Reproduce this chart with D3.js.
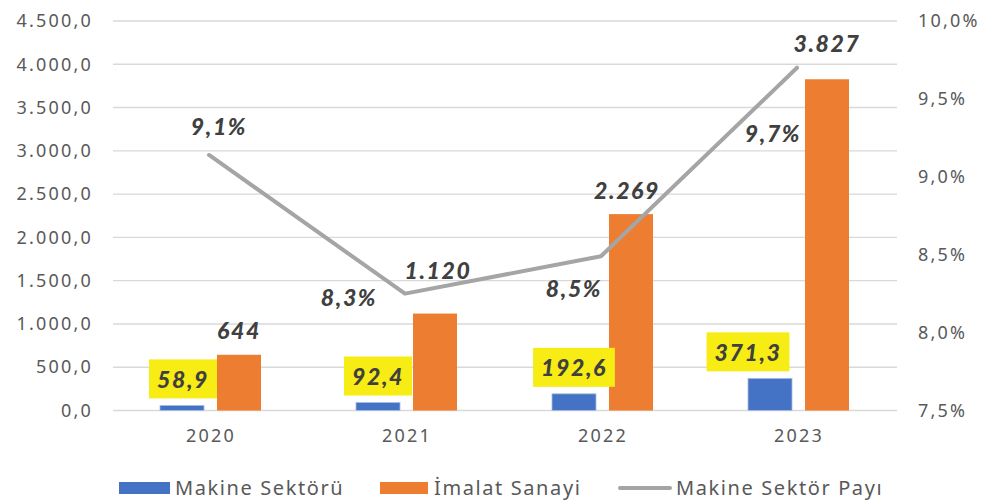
<!DOCTYPE html>
<html>
<head>
<meta charset="utf-8">
<script src="https://cdn.jsdelivr.net/npm/d3@7"></script>
<style>
  body { margin: 0; background: #fff; }
  svg { display: block; }
  .axis text { font-family: "Noto Sans", sans-serif; font-size: 18px; fill: #595959; letter-spacing: 2.2px; }
  .lbl { font-family: Lato, "Open Sans", sans-serif; font-weight: 900; font-style: italic; font-size: 23px; fill: #404040; letter-spacing: 1.6px; }
  .legend text { font-family: "Noto Sans", sans-serif; font-size: 20px; fill: #595959; letter-spacing: 1.6px; }
</style>
</head>
<body>
<div id="chart"></div>
<script>
// data
const years = ["2020", "2021", "2022", "2023"];
const makine = [58.9, 92.4, 192.6, 371.3];
const imalat = [644, 1120, 2269, 3827];
const sektorPayi = [9.14, 8.25, 8.49, 9.70];   // %
const leftTicks = [0, 500, 1000, 1500, 2000, 2500, 3000, 3500, 4000, 4500];
const rightTicks = [7.5, 8.0, 8.5, 9.0, 9.5, 10.0];
const seriesNames = ["Makine Sektörü", "İmalat Sanayi", "Makine Sektör Payı"];

// label nudges (layout only)
const orangeNudge = [[0, -24], [3, -43], [-4, -23], [0, -36]];
const lineNudge = [[10, -28], [-56, 4], [-27, 32], [-24, 66]];
const boxNudge = [1, 0, 0, -22];

const width = 982, height = 503;
const plotLeft = 113, plotRight = 897, plotTop = 21, plotBottom = 410.5;

const tr = d3.formatLocale({ decimal: ",", thousands: ".", grouping: [3], currency: ["", ""] });
const fmtAxis = tr.format(",.1f");
const fmtInt = tr.format(",d");
const fmtOne = tr.format(".1f");

const svg = d3.select("#chart").append("svg")
  .attr("width", width)
  .attr("height", height);

const x = d3.scaleBand().domain(years).range([plotLeft, plotRight]);
const xs = d3.scaleBand().domain(["m", "i"]).range([-51, 50]).paddingInner(0.228);
const y = d3.scaleLinear().domain([0, 4500]).range([plotBottom, plotTop]);
const y2 = d3.scaleLinear().domain([7.5, 10]).range([plotBottom, plotTop]);

// gridlines
svg.append("g")
  .selectAll("line")
  .data(leftTicks)
  .join("line")
    .attr("x1", plotLeft)
    .attr("x2", plotRight)
    .attr("y1", d => y(d))
    .attr("y2", d => y(d))
    .attr("stroke", "#d9d9d9")
    .attr("stroke-width", 1.4);

// left axis
const ya = svg.append("g")
  .attr("class", "axis")
  .attr("transform", `translate(${plotLeft - 20},0)`)
  .call(d3.axisLeft(y).tickValues(leftTicks).tickFormat(fmtAxis).tickSize(0));
ya.select(".domain").remove();
ya.selectAll("text").attr("x", 0);

// right axis
const y2a = svg.append("g")
  .attr("class", "axis")
  .attr("transform", `translate(${plotRight + 21},0)`)
  .call(d3.axisRight(y2).tickValues(rightTicks).tickFormat(d => fmtOne(d) + "%").tickSize(0));
y2a.select(".domain").remove();
y2a.selectAll("text").attr("x", 0);

// x axis
const xa = svg.append("g")
  .attr("class", "axis")
  .attr("transform", `translate(0,${plotBottom})`)
  .call(d3.axisBottom(x).tickSize(0));
xa.select(".domain").remove();
xa.selectAll("text").attr("y", 19).attr("dy", "0.71em");

// bars
const groups = svg.append("g")
  .selectAll("g")
  .data(years)
  .join("g")
    .attr("transform", d => `translate(${x(d) + x.bandwidth() / 2},0)`);

groups.append("rect")
  .attr("x", xs("m"))
  .attr("width", xs.bandwidth())
  .attr("y", (d, i) => y(makine[i]))
  .attr("height", (d, i) => y(0) - y(makine[i]))
  .attr("fill", "#4472c4")
  .attr("stroke", "#a9bde2")
  .attr("stroke-width", 0.8);

groups.append("rect")
  .attr("x", xs("i"))
  .attr("width", xs.bandwidth())
  .attr("y", (d, i) => y(imalat[i]))
  .attr("height", (d, i) => y(0) - y(imalat[i]))
  .attr("fill", "#ed7d31");

// share line
const line = d3.line()
  .x((d, i) => x(years[i]) + x.bandwidth() / 2 - 2)
  .y(d => y2(d));

svg.append("path")
  .datum(sektorPayi)
  .attr("d", line)
  .attr("fill", "none")
  .attr("stroke", "#a5a5a5")
  .attr("stroke-width", 4)
  .attr("stroke-linecap", "round")
  .attr("stroke-linejoin", "round");

// orange value labels
groups.append("text")
  .attr("class", "lbl")
  .attr("text-anchor", "middle")
  .attr("dy", "0.36em")
  .attr("x", (d, i) => xs("i") + xs.bandwidth() / 2 + orangeNudge[i][0])
  .attr("y", (d, i) => y(imalat[i]) + orangeNudge[i][1])
  .text((d, i) => fmtInt(imalat[i]));

// yellow boxed labels for makine
const boxes = groups.append("g")
  .attr("transform", (d, i) => `translate(${xs("m") + xs.bandwidth() / 2 + boxNudge[i]},${y(makine[i]) - 7})`);

const boxText = boxes.append("text")
  .attr("class", "lbl")
  .attr("text-anchor", "middle")
  .attr("y", -19)
  .attr("dy", "0.36em")
  .text((d, i) => fmtOne(makine[i]));

boxes.insert("rect", "text")
  .attr("fill", "#f7ec14")
  .each(function (d, i) {
    const w = boxText.nodes()[i].getComputedTextLength() + 16;
    d3.select(this)
      .attr("x", -w / 2)
      .attr("width", w)
      .attr("y", -39)
      .attr("height", 39);
  });

// line labels
svg.append("g")
  .selectAll("text")
  .data(sektorPayi)
  .join("text")
    .attr("class", "lbl")
    .attr("text-anchor", "middle")
    .attr("dy", "0.36em")
    .attr("x", (d, i) => x(years[i]) + x.bandwidth() / 2 - 2 + lineNudge[i][0])
    .attr("y", (d, i) => y2(d) + lineNudge[i][1])
    .text(d => fmtOne(d) + "%");

// legend
const legend = svg.append("g").attr("class", "legend");
const legendX = [119, 380, 620];
const legendY = 488;

legend.append("rect")
  .attr("x", legendX[0]).attr("y", legendY - 6)
  .attr("width", 51).attr("height", 12)
  .attr("fill", "#4472c4");
legend.append("rect")
  .attr("x", legendX[1]).attr("y", legendY - 6)
  .attr("width", 48).attr("height", 12)
  .attr("fill", "#ed7d31");
legend.append("line")
  .attr("x1", legendX[2]).attr("x2", legendX[2] + 50)
  .attr("y1", legendY).attr("y2", legendY)
  .attr("stroke", "#a5a5a5")
  .attr("stroke-width", 4)
  .attr("stroke-linecap", "round");

legend.selectAll("text")
  .data(seriesNames)
  .join("text")
    .attr("x", (d, i) => legendX[i] + [56, 54, 56][i])
    .attr("y", legendY)
    .attr("dy", "0.35em")
    .text(d => d);
</script>
</body>
</html>
